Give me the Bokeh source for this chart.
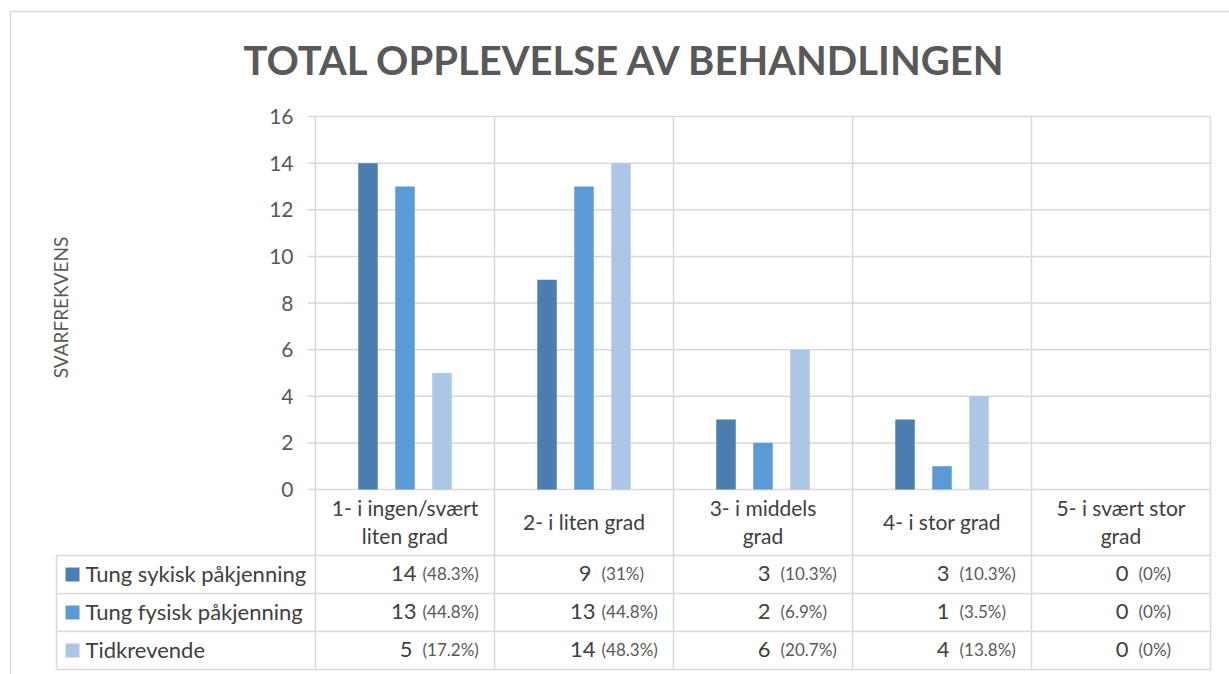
import numpy as np
from bokeh.plotting import figure
from bokeh.models import Range1d
from bokeh.core.properties import value
from bokeh.embed import file_html
from bokeh.resources import INLINE

# ---------------- data ----------------
title = "TOTAL OPPLEVELSE AV BEHANDLINGEN"
y_label = "SVARFREKVENS"
categories = ["1- i ingen/svært\nliten grad", "2- i liten grad", "3- i middels\ngrad",
              "4- i stor grad", "5- i svært stor\ngrad"]
series_names = ["Tung sykisk påkjenning", "Tung fysisk påkjenning", "Tidkrevende"]
tung_sykisk = [14, 9, 3, 3, 0]
tung_fysisk = [13, 13, 2, 1, 0]
tidkrevende = [5, 14, 6, 4, 0]
pct_sykisk = ["(48.3%)", "(31%)", "(10.3%)", "(10.3%)", "(0%)"]
pct_fysisk = ["(44.8%)", "(44.8%)", "(6.9%)", "(3.5%)", "(0%)"]
pct_tid = ["(17.2%)", "(48.3%)", "(20.7%)", "(13.8%)", "(0%)"]
y_ticks = [0, 2, 4, 6, 8, 10, 12, 14, 16]

series_values = [tung_sykisk, tung_fysisk, tidkrevende]
series_pcts = [pct_sykisk, pct_fysisk, pct_tid]
colors = ["#4a7eb0", "#5b9bd5", "#adc6e6"]

# ---------------- layout ----------------
W, H = 1229, 674
X0PX, CELL = 315, 179          # left edge of plot area, category width (px)
Y0PX, YTOPPX = 489, 116        # pixel of value 0 and of value 16
UNIT = (Y0PX - YTOPPX) / 16.0


def px_x(px):
    return (px - X0PX) / CELL


def px_y(py):
    return (Y0PX - py) / UNIT


GRID = "#d9d9d9"
TXT = "#404040"
TXT2 = "#595959"
FONT = value("Lato")

p = figure(width=W, height=H, x_range=Range1d(px_x(0), px_x(W)),
           y_range=Range1d(px_y(H), px_y(0)), x_axis_type=None, y_axis_type=None,
           toolbar_location=None, output_backend="svg", min_border=0,
           outline_line_color=None, background_fill_color="white",
           border_fill_color="white")

ncat = len(categories)
ymax = y_ticks[-1]

# outer chart border
p.segment(x0=[px_x(10), px_x(10)], y0=[px_y(11), px_y(11)],
          x1=[px_x(W + 5), px_x(10)], y1=[px_y(11), px_y(H + 5)],
          line_color=GRID, line_width=1.3)

# horizontal gridlines
p.segment(x0=[px_x(307)] * len(y_ticks), x1=[ncat] * len(y_ticks), y0=y_ticks, y1=y_ticks,
          line_color=GRID, line_width=1.5)

# vertical lines (plot + table)
bottom_y = px_y(669)
p.segment(x0=list(range(ncat + 1)), x1=list(range(ncat + 1)),
          y0=[ymax] * (ncat + 1), y1=[bottom_y] * (ncat + 1),
          line_color=GRID, line_width=1.5)

# table horizontal lines and left edge
row_lines = [px_y(v) for v in (555, 593, 631, 669)]
p.segment(x0=[px_x(56)] * 4, x1=[ncat] * 4, y0=row_lines, y1=row_lines,
          line_color=GRID, line_width=1.5)
p.segment(x0=[px_x(56)], x1=[px_x(56)], y0=[row_lines[0]], y1=[row_lines[-1]],
          line_color=GRID, line_width=1.5)

# bars
bar_w = 19.5 / CELL
offsets = [-37 / CELL, 0.0, 37 / CELL]
for vals, col, off in zip(series_values, colors, offsets):
    xs = [i + 0.5 + off for i in range(ncat)]
    p.vbar(x=xs, top=vals, bottom=0, width=bar_w, fill_color=col, line_color=None)

# y tick labels
p.text(x=[0] * len(y_ticks), y=y_ticks, text=[str(t) for t in y_ticks], x_offset=-22,
       text_align="right", text_baseline="middle", text_font_size="21px",
       text_color=TXT2, text_font=FONT)

# category header row
p.text(x=[i + 0.5 for i in range(ncat)], y=[px_y(521)] * ncat, text=categories,
       text_align="center", text_baseline="middle", text_font_size="21px",
       text_line_height=1.15, text_color=TXT, text_font=FONT)

# table rows
row_centers = [px_y(v) for v in (573, 611, 649)]
for r, (name, vals, pcts, col) in enumerate(zip(series_names, series_values, series_pcts, colors)):
    yc = row_centers[r]
    p.scatter(x=[px_x(72)], y=[px_y((574, 612, 650)[r])], marker="square", size=14,
              fill_color=col, line_color=None)
    p.text(x=[px_x(85)], y=[yc], text=[name], text_align="left", text_baseline="middle",
           text_font_size="22px", text_color=TXT, text_font=FONT)
    num_off = [101 if len(str(v)) > 1 else 97 for v in vals]
    p.text(x=list(range(ncat)), y=[yc] * ncat, text=[str(v) for v in vals], x_offset=num_off,
           text_align="right", text_baseline="middle", text_font_size="22px",
           text_color=TXT, text_font=FONT)
    p.text(x=list(range(ncat)), y=[yc] * ncat, text=pcts, x_offset=107,
           text_align="left", text_baseline="middle", text_font_size="17px",
           text_color=TXT2, text_font=FONT)

# title
p.text(x=[px_x(625)], y=[px_y(59)], text=[title], text_align="center", text_baseline="middle",
       text_font_size="40px", text_font_style="bold", text_color=TXT2, text_font=FONT)

# y-axis label
p.text(x=[px_x(60)], y=[px_y(307)], text=[y_label], angle=np.pi / 2, text_align="center",
       text_baseline="middle", text_font_size="19px", text_color=TXT2, text_font=FONT)

open("out.html", "w").write(file_html(p, INLINE))
